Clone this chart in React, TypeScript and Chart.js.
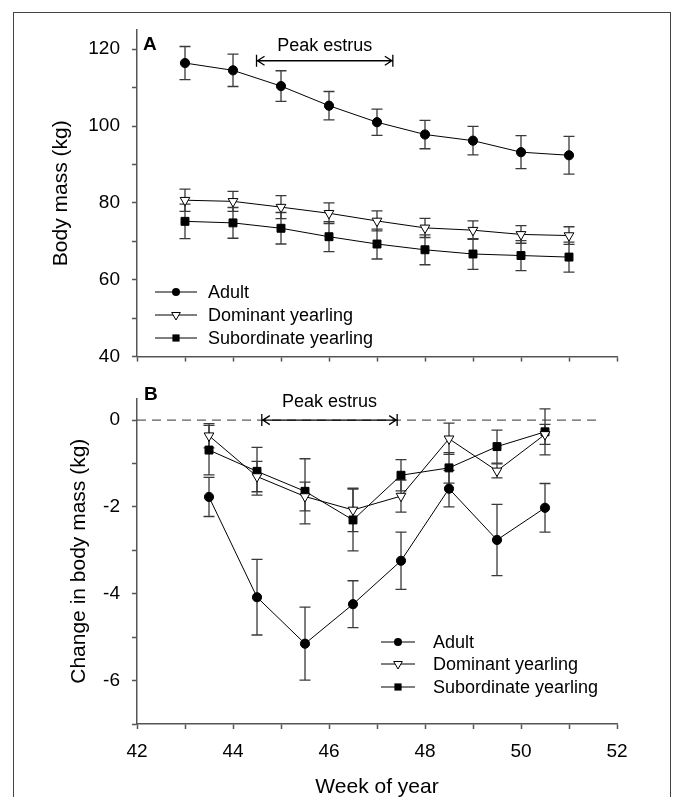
import React, { useEffect, useRef } from 'react';
import { Chart, registerables } from 'chart.js';

Chart.register(...registerables);

const FONT = "'Liberation Sans', Arial, Helvetica, sans-serif";
Chart.defaults.font.family = FONT;
Chart.defaults.color = '#000';

// ---------- Data ----------
// Panel A: body mass by week
const massWeeks = [43, 44, 45, 46, 47, 48, 49, 50, 51];
const adultMass = [116.4, 114.5, 110.4, 105.3, 101.0, 97.8, 96.2, 93.2, 92.4];
const adultMassSE = [4.3, 4.2, 4.0, 3.7, 3.4, 3.7, 3.7, 4.3, 4.9];
const domMass = [80.7, 80.4, 78.9, 77.3, 75.3, 73.5, 72.9, 71.8, 71.5];
const domMassSE = [2.9, 2.6, 3.0, 2.7, 2.6, 2.5, 2.4, 2.3, 2.3];
const subMass = [75.2, 74.8, 73.4, 71.2, 69.3, 67.8, 66.7, 66.3, 65.9];
const subMassSE = [4.5, 4.0, 4.1, 3.9, 3.9, 3.9, 4.0, 3.9, 3.9];

// Panel B: weekly change in body mass
const changeWeeks = [43.5, 44.5, 45.5, 46.5, 47.5, 48.5, 49.5, 50.5];
const adultChange = [-1.77, -4.08, -5.15, -4.24, -3.24, -1.58, -2.76, -2.02];
const adultChangeSE = [0.45, 0.87, 0.84, 0.54, 0.66, 0.42, 0.82, 0.56];
const domChange = [-0.36, -1.3, -1.76, -2.07, -1.75, -0.43, -1.17, -0.33];
const domChangeSE = [0.28, 0.35, 0.33, 0.5, 0.37, 0.36, 0.16, 0.23];
const subChange = [-0.69, -1.18, -1.64, -2.3, -1.27, -1.1, -0.61, -0.27];
const subChangeSE = [0.57, 0.55, 0.75, 0.71, 0.36, 0.35, 0.38, 0.53];

// Tick labels
const weekTickLabels = [42, 44, 46, 48, 50, 52];
const massTickLabels = [40, 60, 80, 100, 120];
const changeTickLabels = [-6, -4, -2, 0];

const seriesNames = ['Adult', 'Dominant yearling', 'Subordinate yearling'];

// Peak estrus span (weeks)
const peakA = [44.49, 47.33];
const peakB = [44.6, 47.42];
const zeroLineSpan = [42, 51.6];

// ---------- Styles ----------
const AXIS = '#555';
const ERR = '#3a3a3a';
const TICK_SIZE = 19;
const TITLE_SIZE = 21;
const TEXT_SIZE = 18;
const styles = [
  { pointStyle: 'circle', radius: 4.6, bg: '#000', rotation: 0 },
  { pointStyle: 'triangle', radius: 5.6, bg: '#fff', rotation: 180 },
  { pointStyle: 'rect', radius: 5.6, bg: '#000', rotation: 0 },
];

const toPts = (xs: number[], ys: number[]) => xs.map((x, i) => ({ x, y: ys[i] }));

function seriesDatasets(xs: number[], ys: number[][]) {
  return ys.map((vals, k) => ({
    type: 'line' as const,
    label: seriesNames[k],
    data: toPts(xs, vals),
    borderColor: '#000',
    borderWidth: 1,
    pointStyle: styles[k].pointStyle as any,
    pointRadius: styles[k].radius,
    pointRotation: styles[k].rotation,
    pointBackgroundColor: styles[k].bg,
    pointBorderColor: '#000',
    pointBorderWidth: 1,
    tension: 0,
    order: k,
  }));
}

function errorBarsPlugin(se: number[][]) {
  return {
    id: 'errorBars',
    beforeDatasetsDraw(chart: any) {
      const { ctx } = chart;
      const x = chart.scales.x;
      const y = chart.scales.y;
      ctx.save();
      ctx.strokeStyle = ERR;
      ctx.lineWidth = 1.3;
      se.forEach((errs, k) => {
        const ds = chart.data.datasets[k];
        ds.data.forEach((p: any, i: number) => {
          const px = x.getPixelForValue(p.x);
          const t = y.getPixelForValue(p.y + errs[i]);
          const b = y.getPixelForValue(p.y - errs[i]);
          const cap = 5.5;
          ctx.beginPath();
          ctx.moveTo(px, t);
          ctx.lineTo(px, b);
          ctx.moveTo(px - cap, t);
          ctx.lineTo(px + cap, t);
          ctx.moveTo(px - cap, b);
          ctx.lineTo(px + cap, b);
          ctx.stroke();
        });
      });
      ctx.restore();
    },
  };
}

function drawMarker(ctx: CanvasRenderingContext2D, k: number, x: number, y: number) {
  ctx.save();
  ctx.lineWidth = 1;
  ctx.strokeStyle = '#000';
  if (k === 0) {
    ctx.fillStyle = '#000';
    ctx.beginPath();
    ctx.arc(x, y, 4, 0, Math.PI * 2);
    ctx.fill();
  } else if (k === 1) {
    const r = 5;
    ctx.fillStyle = '#fff';
    ctx.beginPath();
    ctx.moveTo(x - r * 0.866, y - r * 0.5);
    ctx.lineTo(x + r * 0.866, y - r * 0.5);
    ctx.lineTo(x, y + r);
    ctx.closePath();
    ctx.fill();
    ctx.stroke();
  } else {
    ctx.fillStyle = '#000';
    ctx.fillRect(x - 3.6, y - 3.6, 7.2, 7.2);
  }
  ctx.restore();
}

type AnnCfg = {
  letter: string;
  letterX: number;
  letterY: number;
  peak: number[];
  arrowY: number; // data value
  textY: number; // data value
  legend: { x1: number; x2: number; mx: number; tx: number; rows: number[] };
};

function annotationsPlugin(cfg: AnnCfg) {
  return {
    id: 'annotations',
    afterDraw(chart: any) {
      const { ctx } = chart;
      const x = chart.scales.x;
      const y = chart.scales.y;
      ctx.save();
      // Panel letter
      ctx.fillStyle = '#000';
      ctx.font = `bold 19px ${FONT}`;
      ctx.textAlign = 'left';
      ctx.textBaseline = 'middle';
      ctx.fillText(cfg.letter, cfg.letterX, cfg.letterY);

      // Peak estrus
      const x1 = x.getPixelForValue(cfg.peak[0]);
      const x2 = x.getPixelForValue(cfg.peak[1]);
      const ay = y.getPixelForValue(cfg.arrowY);
      const ty = y.getPixelForValue(cfg.textY);
      ctx.font = `${TEXT_SIZE}px ${FONT}`;
      ctx.textAlign = 'center';
      ctx.fillText('Peak estrus', (x1 + x2) / 2, ty);
      ctx.strokeStyle = '#000';
      ctx.lineWidth = 1.3;
      ctx.beginPath();
      ctx.moveTo(x1, ay);
      ctx.lineTo(x2, ay);
      ctx.moveTo(x1, ay - 6);
      ctx.lineTo(x1, ay + 6);
      ctx.moveTo(x2, ay - 6);
      ctx.lineTo(x2, ay + 6);
      ctx.moveTo(x1 + 8, ay - 4.5);
      ctx.lineTo(x1 + 1, ay);
      ctx.lineTo(x1 + 8, ay + 4.5);
      ctx.moveTo(x2 - 8, ay - 4.5);
      ctx.lineTo(x2 - 1, ay);
      ctx.lineTo(x2 - 8, ay + 4.5);
      ctx.stroke();

      // Legend
      const L = cfg.legend;
      ctx.textAlign = 'left';
      ctx.font = `${TEXT_SIZE}px ${FONT}`;
      seriesNames.forEach((name, k) => {
        const ry = L.rows[k];
        ctx.strokeStyle = '#000';
        ctx.lineWidth = 1;
        ctx.beginPath();
        ctx.moveTo(L.x1, ry);
        ctx.lineTo(L.x2, ry);
        ctx.stroke();
        drawMarker(ctx, k, L.mx, ry);
        ctx.fillStyle = '#000';
        ctx.fillText(name, L.tx, ry + 1);
      });
      ctx.restore();
    },
  };
}

const gridCfg = {
  drawOnChartArea: false,
  drawTicks: true,
  tickLength: 5,
  tickColor: AXIS,
  tickWidth: 1.5,
};
const borderCfg = { color: AXIS, width: 1.5 };
const tickFont = { family: FONT, size: TICK_SIZE };
const titleFont = { family: FONT, size: TITLE_SIZE };

function buildA() {
  return {
    type: 'line' as const,
    data: {
      datasets: seriesDatasets(massWeeks, [adultMass, domMass, subMass]),
    },
    options: {
      animation: false as const,
      responsive: false,
      devicePixelRatio: 1,
      layout: { padding: { top: 30, right: 56, bottom: 0, left: 0 } },
      plugins: { legend: { display: false }, tooltip: { enabled: false } },
      scales: {
        x: {
          type: 'linear' as const,
          min: 42,
          max: 52,
          ticks: { stepSize: 1, autoSkip: false, callback: () => '', font: tickFont },
          grid: gridCfg,
          border: borderCfg,
          afterFit: (s: any) => {
            s.height = 14;
          },
        },
        y: {
          type: 'linear' as const,
          min: 40,
          max: 125,
          ticks: {
            stepSize: 10,
            includeBounds: false,
            autoSkip: false,
            padding: 12,
            color: '#000',
            font: tickFont,
            callback: (v: any) => (massTickLabels.includes(Number(v)) ? String(v) : ''),
          },
          grid: gridCfg,
          border: borderCfg,
          title: {
            display: true,
            text: 'Body mass (kg)',
            color: '#000',
            font: titleFont,
            padding: { top: 49, bottom: 0 },
          },
          afterFit: (s: any) => {
            s.width = 137;
          },
        },
      },
    },
    plugins: [
      errorBarsPlugin([adultMassSE, domMassSE, subMassSE]),
      annotationsPlugin({
        letter: 'A',
        letterX: 143,
        letterY: 45,
        peak: peakA,
        arrowY: 117,
        textY: 120.8,
        legend: { x1: 155, x2: 197, mx: 176, tx: 208, rows: [292, 315, 338] },
      }),
    ],
  };
}

const B_TOP = 375;

function buildB() {
  const ds: any[] = seriesDatasets(changeWeeks, [adultChange, domChange, subChange]);
  ds.push({
    type: 'line',
    label: 'zero',
    data: toPts(zeroLineSpan, [0, 0]),
    borderColor: '#333',
    borderWidth: 1,
    borderDash: [9, 6],
    pointRadius: 0,
    order: 10,
  });
  return {
    type: 'line' as const,
    data: { datasets: ds },
    options: {
      animation: false as const,
      responsive: false,
      devicePixelRatio: 1,
      layout: { padding: { top: 11, right: 56, bottom: 0, left: 0 } },
      plugins: { legend: { display: false }, tooltip: { enabled: false } },
      scales: {
        x: {
          type: 'linear' as const,
          min: 42,
          max: 52,
          ticks: {
            stepSize: 1,
            autoSkip: false,
            maxRotation: 0,
            padding: 11,
            color: '#000',
            font: tickFont,
            callback: (v: any) => (weekTickLabels.includes(Number(v)) ? String(v) : ''),
          },
          grid: gridCfg,
          border: borderCfg,
          title: {
            display: true,
            text: 'Week of year',
            color: '#000',
            font: titleFont,
            padding: { top: 0, bottom: -3 },
          },
          afterFit: (s: any) => {
            s.height = 73;
          },
        },
        y: {
          type: 'linear' as const,
          min: -7,
          max: 0.5,
          ticks: {
            stepSize: 1,
            includeBounds: false,
            autoSkip: false,
            padding: 12,
            color: '#000',
            font: tickFont,
            callback: (v: any) => (changeTickLabels.includes(Number(v)) ? String(v) : ''),
          },
          grid: gridCfg,
          border: borderCfg,
          title: {
            display: true,
            text: 'Change in body mass (kg)',
            color: '#000',
            font: titleFont,
            padding: { top: 67, bottom: 0 },
          },
          afterFit: (s: any) => {
            s.width = 137;
          },
        },
      },
    },
    plugins: [
      errorBarsPlugin([adultChangeSE, domChangeSE, subChangeSE]),
      annotationsPlugin({
        letter: 'B',
        letterX: 144,
        letterY: 395 - B_TOP,
        peak: peakB,
        arrowY: 0,
        textY: 0.42,
        legend: {
          x1: 381,
          x2: 415,
          mx: 398,
          tx: 433,
          rows: [642 - B_TOP, 664 - B_TOP, 687 - B_TOP],
        },
      }),
    ],
  };
}

export default function App() {
  const refA = useRef<HTMLCanvasElement>(null);
  const refB = useRef<HTMLCanvasElement>(null);
  useEffect(() => {
    const a = new Chart(refA.current as HTMLCanvasElement, buildA() as any);
    const b = new Chart(refB.current as HTMLCanvasElement, buildB() as any);
    return () => {
      a.destroy();
      b.destroy();
    };
  }, []);
  return (
    <div
      style={{
        position: 'absolute',
        left: 0,
        top: 0,
        width: 673,
        height: 797,
        overflow: 'hidden',
        background: '#fff',
      }}
    >
      <div
        style={{
          position: 'absolute',
          left: 13,
          top: 12,
          width: 658,
          height: 800,
          boxSizing: 'border-box',
          borderLeft: '1.5px solid #444',
          borderTop: '1.5px solid #444',
          borderRight: '1.5px solid #444',
        }}
      />
      <canvas
        ref={refA}
        width={673}
        height={380}
        style={{ position: 'absolute', left: 0, top: 0, width: 673, height: 380 }}
      />
      <canvas
        ref={refB}
        width={673}
        height={797 - B_TOP}
        style={{ position: 'absolute', left: 0, top: B_TOP, width: 673, height: 797 - B_TOP }}
      />
    </div>
  );
}
